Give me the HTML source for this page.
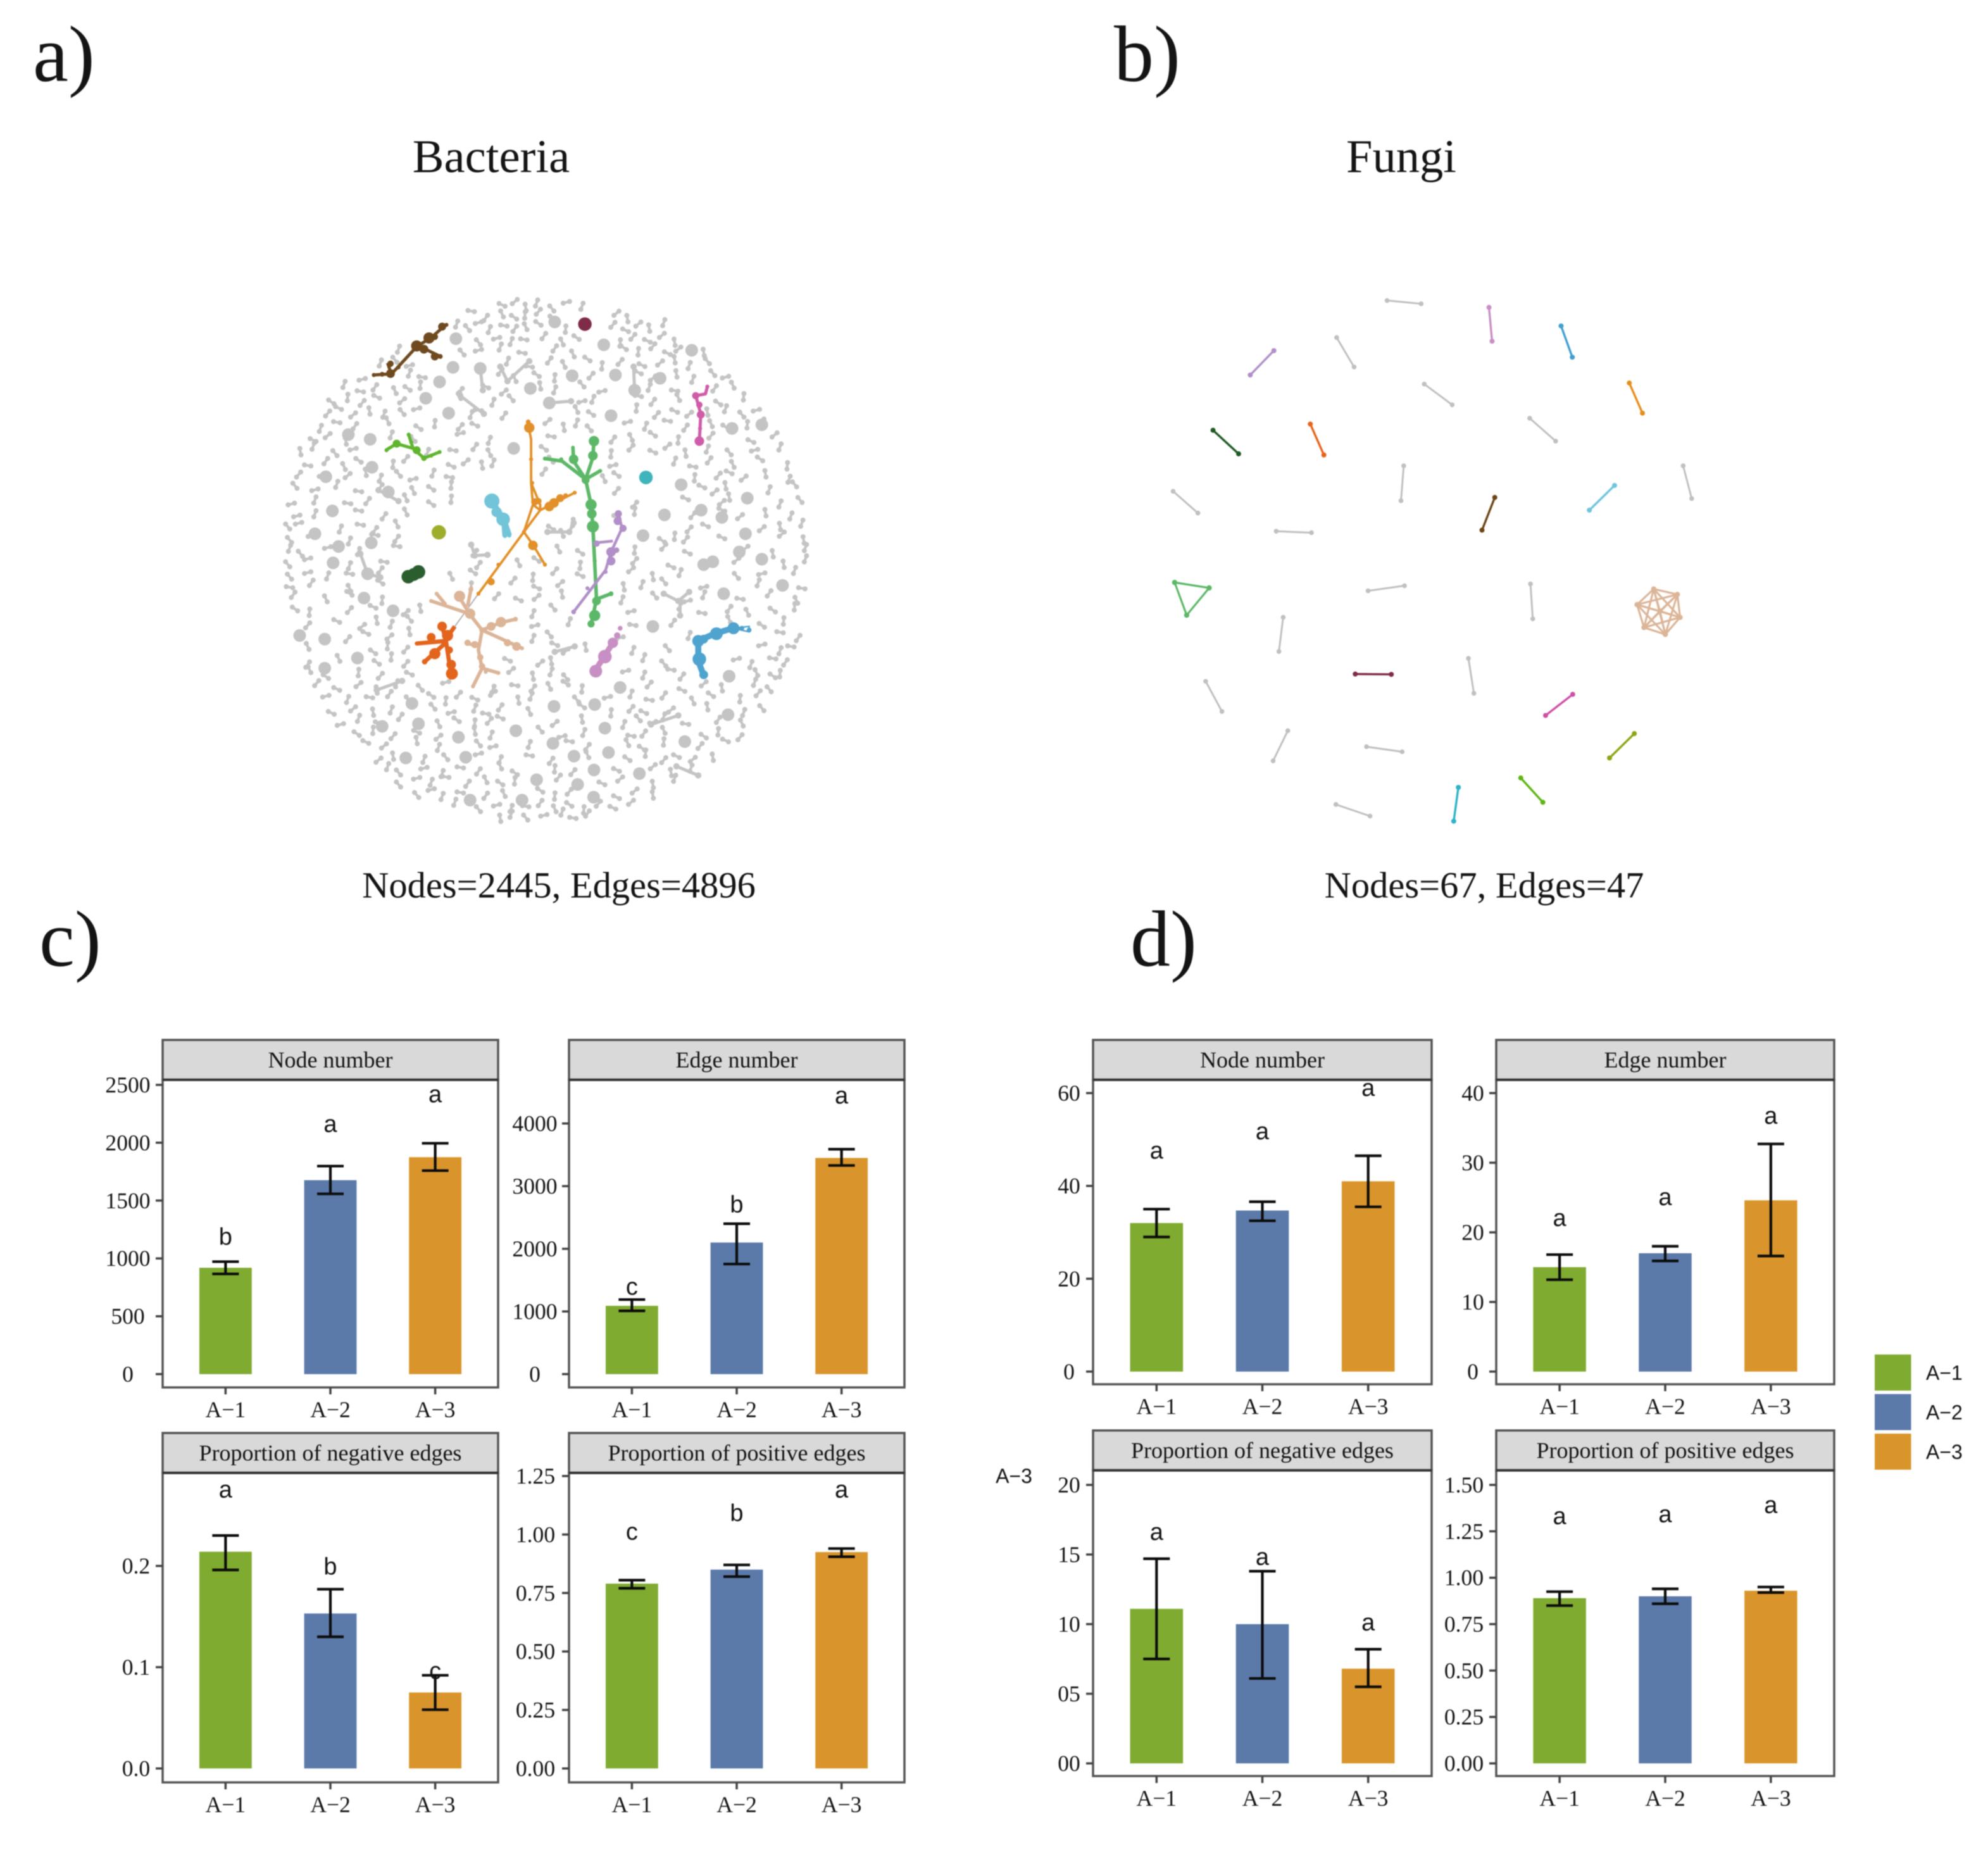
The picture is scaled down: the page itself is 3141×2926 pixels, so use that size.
<!DOCTYPE html>
<html lang="en">
<head>
<meta charset="utf-8">
<title>Bacteria and fungi co-occurrence networks</title>
<style>
html,body{margin:0;padding:0;background:#fff;}
#figure{display:block;width:3141px;height:2926px;filter:blur(0.9px);}
text{fill:#141414;}
.serif{font-family:"Liberation Serif",serif;}
.sans{font-family:"Liberation Sans",sans-serif;}
</style>
</head>
<body>
<svg id="figure" xmlns="http://www.w3.org/2000/svg" width="3141" height="2926" viewBox="0 0 3141 2926">
  <rect width="3141" height="2926" fill="#ffffff"/>
  <text class="serif" x="52" y="128" font-size="126">a)</text>
  <text class="serif" x="1760" y="128" font-size="126">b)</text>
  <text class="serif" x="62" y="1526" font-size="126">c)</text>
  <text class="serif" x="1786" y="1526" font-size="126">d)</text>
  <text class="serif" x="776" y="272" font-size="74.6" text-anchor="middle">Bacteria</text>
  <text class="serif" x="2214" y="272" font-size="74.5" text-anchor="middle">Fungi</text>
  <text class="serif" x="883" y="1418" font-size="58.5" text-anchor="middle">Nodes=2445, Edges=4896</text>
  <text class="serif" x="2345" y="1418" font-size="58.5" text-anchor="middle">Nodes=67, Edges=47</text>
  <text class="sans" x="1602" y="2343" font-size="32" text-anchor="middle">A−3</text>
  <g id="bacteria-network"></g>
  <g id="fungi-network"></g>
  <g id="bar-panels"></g>
  <g id="legend"></g>
</svg>
<script>
/* ---------- shared bar chart data ---------- */
const categories = ["A−1", "A−2", "A−3"];
const groupColors = ["#7fab30", "#5b7aa9", "#d9952b"];

/* c) bacteria */
const bactNodeTicks = [0, 500, 1000, 1500, 2000, 2500];
const bactNodeTickLabels = ["0", "500", "1000", "1500", "2000", "2500"];
const bactNodeValues = [919, 1676, 1875];
const bactNodeUpper = [972, 1798, 1995];
const bactNodeLower = [866, 1558, 1759];
const bactNodeLetters = ["b", "a", "a"];
const bactNodeLetterAt = [1185, 2157, 2416];

const bactEdgeTicks = [0, 1000, 2000, 3000, 4000];
const bactEdgeTickLabels = ["0", "1000", "2000", "3000", "4000"];
const bactEdgeValues = [1090, 2100, 3450];
const bactEdgeUpper = [1190, 2400, 3590];
const bactEdgeLower = [1010, 1757, 3330];
const bactEdgeLetters = ["c", "b", "a"];
const bactEdgeLetterAt = [1390, 2700, 4440];

const bactNegTicks = [0, 0.1, 0.2];
const bactNegTickLabels = ["0.0", "0.1", "0.2"];
const bactNegValues = [0.214, 0.153, 0.075];
const bactNegUpper = [0.230, 0.177, 0.092];
const bactNegLower = [0.196, 0.130, 0.058];
const bactNegLetters = ["a", "b", "c"];
const bactNegLetterAt = [0.275, 0.199, 0.096];

const bactPosTicks = [0, 0.25, 0.5, 0.75, 1, 1.25];
const bactPosTickLabels = ["0.00", "0.25", "0.50", "0.75", "1.00", "1.25"];
const bactPosValues = [0.79, 0.85, 0.925];
const bactPosUpper = [0.805, 0.87, 0.94];
const bactPosLower = [0.77, 0.82, 0.905];
const bactPosLetters = ["c", "b", "a"];
const bactPosLetterAt = [1.01, 1.09, 1.19];

/* d) fungi */
const fungNodeTicks = [0, 20, 40, 60];
const fungNodeTickLabels = ["0", "20", "40", "60"];
const fungNodeValues = [32, 34.7, 41];
const fungNodeUpper = [35, 36.6, 46.5];
const fungNodeLower = [29, 32.5, 35.5];
const fungNodeLetters = ["a", "a", "a"];
const fungNodeLetterAt = [47.5, 51.7, 61];

const fungEdgeTicks = [0, 10, 20, 30, 40];
const fungEdgeTickLabels = ["0", "10", "20", "30", "40"];
const fungEdgeValues = [15, 17, 24.6];
const fungEdgeUpper = [16.8, 18, 32.7];
const fungEdgeLower = [13.2, 15.9, 16.6];
const fungEdgeLetters = ["a", "a", "a"];
const fungEdgeLetterAt = [22, 25, 36.7];

const fungNegTicks = [0, 5, 10, 15, 20];
const fungNegTickLabels = ["00", "05", "10", "15", "20"];
const fungNegValues = [11.1, 10, 6.8];
const fungNegUpper = [14.7, 13.8, 8.2];
const fungNegLower = [7.5, 6.1, 5.5];
const fungNegLetters = ["a", "a", "a"];
const fungNegLetterAt = [16.6, 14.8, 10.1];

const fungPosTicks = [0, 0.25, 0.5, 0.75, 1, 1.25, 1.5];
const fungPosTickLabels = ["0.00", "0.25", "0.50", "0.75", "1.00", "1.25", "1.50"];
const fungPosValues = [0.89, 0.90, 0.93];
const fungPosUpper = [0.925, 0.94, 0.95];
const fungPosLower = [0.85, 0.86, 0.92];
const fungPosLetters = ["a", "a", "a"];
const fungPosLetterAt = [1.33, 1.34, 1.39];

/* ---------- bacteria network data (layout units) ---------- */
const greyRows = [
 [90,[685,720,750,780,822,862,905]],
 [118,[600,640,685,718,748,785,825,1000,1030]],
 [150,[560,590,620,650,690,720,750,785,860,990,1025,1060,1090,1130]],
 [185,[620,670,710,745,800,850,890,1010,1045,1085,1125,1160]],
 [215,[400,575,620,680,740,830,880,1020,1060,1100,1140,1170,1240]],
 [250,[350,390,430,700,760,815,855,920,960,1010,1070,1120,1160,1200,1250]],
 [285,[300,430,465,680,720,780,830,930,1060,1100,1165,1210,1265,1300]],
 [320,[250,295,335,390,425,460,570,640,690,790,830,905,960,1090,1160,1270,1320]],
 [350,[215,260,300,340,410,570,660,710,905,935,1060,1100,1170,1280,1350]],
 [385,[205,235,275,320,360,410,450,600,620,690,890,930,1055,1110,1160,1200,1250,1300,1345,1385]],
 [420,[185,230,280,370,455,500,570,610,810,855,890,925,1030,1080,1140,1190,1260,1300,1360,1400]],
 [455,[165,205,255,380,440,570,650,820,990,1040,1100,1170,1260,1370,1435]],
 [490,[130,165,225,275,480,550,610,650,800,985,1040,1100,1140,1190,1250,1310,1380,1450]],
 [525,[150,200,250,290,385,420,545,585,630,660,820,990,1160,1210,1255,1320,1395,1470]],
 [560,[125,190,260,310,350,400,440,495,540,800,965,1000,1215,1280,1310,1350,1410,1475]],
 [595,[115,170,230,290,350,440,490,545,1000,1235,1270,1300,1420,1490]],
 [630,[105,170,260,315,420,490,545,1050,1190,1290,1310,1450,1505]],
 [665,[120,170,290,360,420,1000,1050,1210,1290,1340,1410,1480]],
 [700,[95,125,240,295,335,395,820,880,1200,1245,1400,1450,1510]],
 [730,[100,160,265,335,395,850,1125,1160,1190,1290,1455,1515]],
 [765,[100,130,205,290,395,610,840,900,1050,1130,1195,1355,1430,1520]],
 [800,[95,150,265,360,620,730,780,900,1050,1150,1330,1460,1520]],
 [830,[100,150,205,265,350,545,605,770,830,900,1040,1100,1175,1330,1400,1490]],
 [860,[100,160,265,350,600,715,780,845,1020,1070,1130,1240,1390,1510]],
 [895,[110,200,265,355,670,730,780,850,1015,1105,1195,1240,1340,1420,1495]],
 [930,[115,155,265,330,420,460,770,825,1040,1175,1235,1310,1360,1430,1490]],
 [965,[150,230,300,340,380,430,775,870,1045,1155,1310,1400,1460]],
 [1000,[260,310,375,430,770,815,1010,1200,1450,1500]],
 [1035,[150,330,370,420,830,860,915,1045,1140,1400,1450,1480]],
 [1070,[150,235,340,380,420,700,790,820,1075,1130,1330,1370,1430,1465]],
 [1105,[155,200,290,350,430,710,770,820,860,1025,1075,1150,1180,1385,1430,1450]],
 [1140,[175,230,290,340,395,460,530,660,720,770,815,860,905,1090,1180,1240,1290,1380,1420]],
 [1170,[200,260,320,375,425,490,530,565,610,660,730,765,890,975,1040,1090,1130,1210,1260,1340,1390]],
 [1205,[215,275,330,380,495,545,610,640,680,760,905,985,1040,1075,1150,1250,1350,1400]],
 [1235,[240,290,345,405,510,560,610,650,680,830,905,1020,1060,1100,1130,1190,1280,1345]],
 [1270,[285,330,385,450,510,610,655,790,850,910,1040,1075,1130,1240,1280,1340]],
 [1300,[310,360,450,510,620,660,760,870,920,1030,1070,1130,1230,1300]],
 [1335,[345,385,470,530,620,680,760,820,920,1030,1080,1130,1165,1210,1265]],
 [1370,[370,400,470,520,570,620,680,720,830,880,1000,1100,1150,1205]],
 [1400,[400,450,490,530,590,640,680,720,840,960,1010,1100,1160]],
 [1435,[450,490,520,570,640,690,790,830,870,1000,1050,1100]],
 [1470,[555,620,670,710,750,790,830,870,910,950,990,1040]],
 [1495,[680,710,750,800,850,880,920]]
];
const dumbbellAngles = [25,-40,80,-70,50,-15,110,10,-55,65,35,-85,130];
const dumbbellRowShift = [0,-9,7,-5,10,-7,4,-11,8,-3,6];
const greyBlobs = [[558,183],[830,137],[965,200],[1207,215],[550,262],[625,265],[878,285],[997,283],[763,320],[513,302],[475,347],[538,388],[815,360],[985,395],[1120,292],[1050,325],[1318,430],[1400,420],[262,447],[322,460],[717,485],[327,537],[200,563],[1360,622],[1132,668],[1233,655],[1178,585],[372,605],[218,657],[170,720],[1355,720],[1073,725],[325,745],[235,755],[1290,675],[1240,805],[1265,797],[1338,770],[1400,790],[220,800],[315,830],[1295,885],[1457,862],[305,897],[385,932],[1100,975],[128,1000],[197,1010],[287,1062],[197,1090],[1010,1143],[1310,1112],[437,1187],[828,1195],[940,1190],[723,1262],[968,1255],[355,1250],[455,1243],[1188,1292],[1307,1218],[565,1280],[585,1335],[420,1337],[883,1332],[978,1322],[938,1370],[1063,1380],[780,1397],[893,1410],[597,1453],[740,1453],[937,1445],[825,1297]];
const greyTrees = [
 [[625,265],[632,325]],[[680,260],[700,300],[760,245]],[[570,340],[635,390]],[[815,360],[875,355]],
 [[1047,260],[1050,330]],[[295,775],[315,830],[350,840]],[[345,600],[400,630]],
 [[1200,880],[1170,905],[1130,885]],[[1175,905],[1175,945]],[[340,1150],[410,1125]],
 [[1095,1245],[1170,1220]],[[1225,1385],[1165,1360]],[[810,715],[870,715],[882,690]],
 [[600,750],[610,780],[645,778]],[[830,1045],[885,1030]]
];
const modules = [
 {name:"brown-module",color:"#6f4a1f",width:7,paths:[[[330,283],[380,280],[395,265],[450,205],[490,180],[530,145]],[[470,210],[515,232]],[[370,250],[380,280]]],
  nodes:[[332,283,5],[355,281,6],[378,279,11],[378,252,8],[400,262,5],[450,203,14],[470,212,11],[484,181,14],[500,178,8],[500,232,10],[515,232,6],[520,150,10],[532,145,5]]},
 {name:"maroon-module",color:"#7f2c4a",width:4,paths:[],nodes:[[913,143,17]]},
 {name:"pink-module",color:"#cf5ca8",width:7,paths:[[[1250,315],[1245,335],[1218,340],[1232,390],[1228,465]]],
  nodes:[[1250,315,5],[1218,340,9],[1228,365,8],[1232,392,10],[1230,430,5],[1228,465,12]]},
 {name:"lime-module",color:"#5fb52e",width:7,paths:[[[365,490],[395,472],[440,485],[470,512],[513,495]],[[428,447],[440,485]]],
  nodes:[[367,490,5],[395,472,10],[428,447,5],[435,468,5],[450,490,10],[470,512,7],[490,505,5],[513,495,5]]},
 {name:"orange-module",color:"#e2912a",width:5,paths:[[[755,410],[765,460],[765,580],[770,640],[745,715],[620,885]],[[790,655],[885,607]],[[745,715],[770,750],[803,805]],[[765,580],[790,640],[790,655]],[[770,640],[790,655],[745,715]]],
  nodes:[[757,412,6],[760,428,13],[765,515,5],[768,580,5],[775,632,9],[785,630,8],[815,645,12],[828,635,12],[845,622,10],[860,615,6],[885,607,5],[745,715,5],[770,752,12],[803,805,5],[675,805,5],[655,852,9],[620,885,5]]},
 {name:"green-module",color:"#5cb868",width:8,paths:[[[938,460],[935,510],[915,570],[930,640],[935,700],[940,800],[945,900],[930,970]],[[803,513],[850,520],[915,570]],[[880,480],[882,520],[915,570]],[[945,900],[985,885]],[[915,570],[955,547]]],
  nodes:[[938,465,13],[935,505,12],[882,515,12],[880,482,4],[803,513,5],[848,515,5],[915,572,10],[955,547,5],[930,640,14],[932,665,12],[935,700,15],[940,795,5],[945,905,11],[985,885,6],[940,945,14],[930,968,9]]},
 {name:"purple-module",color:"#b18fc8",width:6,paths:[[[1005,660],[1015,705],[985,770],[970,820],[882,935]],[[940,745],[990,740]]],
  nodes:[[1005,665,9],[1003,685,10],[1018,705,9],[945,747,8],[1000,765,7],[985,770,12],[985,795,11],[970,825,5],[920,870,5],[882,935,6]]},
 {name:"light-blue-module",color:"#72c4d8",width:13,paths:[[[657,630],[690,680]],[[690,680],[693,725]],[[690,680],[705,725]]],
  nodes:[[657,630,19],[670,660,13],[688,680,17],[693,725,6],[705,725,5]]},
 {name:"olive-module",color:"#a0ad2a",width:4,paths:[],nodes:[[511,716,18]]},
 {name:"dark-green-module",color:"#2a5e2e",width:4,paths:[],nodes:[[427,838,17],[442,832,16],[455,825,17]]},
 {name:"teal-module",color:"#40b4bc",width:4,paths:[],nodes:[[1081,565,17]]},
 {name:"tan-module",color:"#dcb598",width:8,paths:[[[565,890],[595,940],[630,985],[680,965],[722,955]],[[630,985],[740,1035]],[[630,985],[620,1040],[630,1090],[605,1140]],[[630,1090],[675,1103]],[[595,940],[490,905]],[[505,885],[530,915]],[[600,870],[590,920]],[[585,1020],[620,1030]]],
  nodes:[[568,892,14],[597,940,13],[630,985,7],[655,975,11],[682,963,13],[722,955,6],[700,1020,9],[725,1030,11],[740,1035,5],[590,1020,8],[610,1025,9],[625,1060,8],[630,1085,8],[640,1100,5],[675,1103,5],[605,1140,5],[490,905,5],[505,885,5],[600,870,5]]},
 {name:"orange-red-module",color:"#e3651d",width:10,paths:[[[555,975],[530,1010],[545,1110]],[[520,975],[530,1010]],[[450,1022],[530,1015]],[[472,1072],[530,1020]]],
  nodes:[[520,975,12],[535,1000,14],[490,1005,11],[450,1022,5],[500,1050,14],[472,1072,7],[540,1040,9],[545,1080,12],[547,1105,15]]},
 {name:"mauve-module",color:"#c88fc4",width:14,paths:[[[990,1020],[965,1060],[940,1098]]],
  nodes:[[1010,980,6],[1002,1000,8],[990,1020,13],[968,1058,17],[943,1098,16]]},
 {name:"blue-module",color:"#4fa3cf",width:15,paths:[[[1320,980],[1270,995],[1225,1015],[1225,1070],[1240,1110]]],
  nodes:[[1365,985,6],[1345,980,6],[1322,980,15],[1275,995,16],[1240,1010,11],[1225,1015,15],[1228,1065,17],[1240,1108,11]]}
];
const blueModuleTail = [[1320,980],[1365,975],[1365,990],[1320,980]];
const bactGreyConnector = [[620,885],[555,975]];

/* ---------- fungi network data (layout units) ---------- */
const fungiGreyEdges = [[672,78,760,87],[542,180,587,261],[768,308,840,365],[1040,402,1107,465],[715,533,708,629],[120,603,184,663],[386,713,477,717],[1436,533,1458,623],[717,863,623,877],[1042,858,1048,954],[404,950,393,1044],[882,1063,896,1159],[204,1126,246,1209],[416,1262,378,1345],[619,1306,711,1320],[540,1465,628,1497]];
const fungiColorEdges = [
 [935,97,943,190,"#c88fc4"],[1121,148,1150,234,"#3f9fd0"],[380,216,319,283,"#b18fc8"],[1297,305,1331,388,"#e58e1c"],
 [223,435,289,500,"#1f5a25"],[474,418,509,503,"#e8631a"],[1259,587,1194,655,"#6ec5dd"],[950,620,917,710,"#6b4414"],
 [590,1106,683,1107,"#7f2c4a"],[1151,1162,1081,1220,"#cf4fa5"],[1310,1270,1246,1337,"#8fa512"],[1017,1392,1074,1459,"#5fb512"],[856,1418,844,1511,"#2db3c4"]
];
const fungiTriangle = [[124,854],[213,869],[155,944]];
const fungiClique = [[1360,872],[1421,887],[1428,950],[1390,997],[1335,978],[1317,915],[1376,933]];

/* ---------- helpers ---------- */
const NS = "http://www.w3.org/2000/svg";
function make(parent, tag, attrs, name, text) {
  const el = document.createElementNS(NS, tag);
  for (const k in attrs) el.setAttribute(k, attrs[k]);
  
  
  if (text !== undefined) el.textContent = text;
  parent.appendChild(el);
  return el;
}

/* ---------- bacteria network ---------- */
const bx = u => 400 + u / 1.742;
const by = u => 430 + u / 1.742;
const bactRoot = document.getElementById("bacteria-network");
const GREY = "#c4c4c4";
(function drawBacteria() {
  const greyGroup = make(bactRoot, "g", {fill: GREY, stroke: GREY}, "grey-modules");
  let i = 0;
  greyRows.forEach(row => {
    row[1].forEach(x => {
      const a = dumbbellAngles[i % dumbbellAngles.length] * Math.PI / 180;
      const shift = dumbbellRowShift[i % dumbbellRowShift.length];
      i++;
      const cx = bx(x), cy = by(row[0] + shift), dx = Math.cos(a) * 5.2, dy = Math.sin(a) * 5.2;
      make(greyGroup, "line", {x1: cx - dx, y1: cy - dy, x2: cx + dx, y2: cy + dy, "stroke-width": 4.2}, "grey-edge");
      make(greyGroup, "circle", {cx: cx - dx, cy: cy - dy, r: 4, stroke: "none"}, "grey-node");
      make(greyGroup, "circle", {cx: cx + dx, cy: cy + dy, r: 4, stroke: "none"}, "grey-node");
    });
  });
  greyTrees.forEach(t => {
    make(greyGroup, "polyline", {points: t.map(p => bx(p[0]) + "," + by(p[1])).join(" "), fill: "none", "stroke-width": 5}, "grey-branch");
    t.forEach(p => make(greyGroup, "circle", {cx: bx(p[0]), cy: by(p[1]), r: 5, stroke: "none"}, "grey-node"));
  });
  greyBlobs.forEach(p => make(greyGroup, "circle", {cx: bx(p[0]), cy: by(p[1]), r: 10, stroke: "none"}, "grey-cluster"));
  make(bactRoot, "line", {x1: bx(bactGreyConnector[0][0]), y1: by(bactGreyConnector[0][1]), x2: bx(bactGreyConnector[1][0]), y2: by(bactGreyConnector[1][1]), stroke: "#b0b0b0", "stroke-width": 2}, "grey-connector-edge");
  modules.forEach(m => {
    const g = make(bactRoot, "g", {fill: m.color, stroke: m.color}, m.name);
    m.paths.forEach(p => make(g, "polyline", {points: p.map(q => bx(q[0]) + "," + by(q[1])).join(" "), fill: "none", "stroke-width": m.width / 1.742 + 1, "stroke-linejoin": "round"}, "module-edge"));
    m.nodes.forEach(n => make(g, "circle", {cx: bx(n[0]), cy: by(n[1]), r: n[2] / 1.742 * 1.1, stroke: "none"}, "module-node"));
  });
  make(bactRoot, "polyline", {points: blueModuleTail.map(q => bx(q[0]) + "," + by(q[1])).join(" "), fill: "none", stroke: "#4fa3cf", "stroke-width": 2.4}, "blue-module-tail");
})();

/* ---------- fungi network ---------- */
const fx = u => 1780 + u / 1.633;
const fy = u => 430 + u / 1.742;
const fungRoot = document.getElementById("fungi-network");
function fungiEdge(parent, x1, y1, x2, y2, color, w) {
  make(parent, "line", {x1: fx(x1), y1: fy(y1), x2: fx(x2), y2: fy(y2), stroke: color, "stroke-width": w}, "fungi-edge");
}
function fungiNode(parent, x, y, color, r) {
  make(parent, "circle", {cx: fx(x), cy: fy(y), r: r, fill: color}, "fungi-node");
}
(function drawFungi() {
  const gg = make(fungRoot, "g", {}, "fungi-grey-pairs");
  fungiGreyEdges.forEach(e => {
    fungiEdge(gg, e[0], e[1], e[2], e[3], "#c0c0c0", 3);
    fungiNode(gg, e[0], e[1], "#c0c0c0", 3.8);
    fungiNode(gg, e[2], e[3], "#c0c0c0", 3.8);
  });
  const cg = make(fungRoot, "g", {}, "fungi-colored-pairs");
  fungiColorEdges.forEach(e => {
    fungiEdge(cg, e[0], e[1], e[2], e[3], e[4], 3.4);
    fungiNode(cg, e[0], e[1], e[4], 4);
    fungiNode(cg, e[2], e[3], e[4], 4);
  });
  const tri = make(fungRoot, "g", {}, "fungi-green-triangle");
  fungiTriangle.forEach((p, i) => {
    const q = fungiTriangle[(i + 1) % 3];
    fungiEdge(tri, p[0], p[1], q[0], q[1], "#5cb868", 3.2);
  });
  fungiTriangle.forEach(p => fungiNode(tri, p[0], p[1], "#5cb868", 4.2));
  const cl = make(fungRoot, "g", {}, "fungi-tan-clique");
  fungiClique.forEach((p, i) => {
    fungiClique.slice(i + 1).forEach(q => fungiEdge(cl, p[0], p[1], q[0], q[1], "#dcb598", 3.2));
  });
  fungiClique.forEach(p => fungiNode(cl, p[0], p[1], "#dcb598", 4.2));
})();

/* ---------- bar panels ---------- */
const panelRoot = document.getElementById("bar-panels");
function drawPanel(c) {
  const g = make(panelRoot, "g", {}, c.name);
  const w = c.x1 - c.x0;
  const xPos = i => c.x0 + (i + 1 - 0.4) / 3.2 * w;
  const barW = 0.5 / 3.2 * w;
  const t0 = c.ticks[0], tN = c.ticks[c.ticks.length - 1];
  const yPos = v => c.zeroPx + (v - t0) / (tN - t0) * (c.topPx - c.zeroPx);

  make(g, "rect", {x: c.x0, y: c.stripTop, width: w, height: c.stripBottom - c.stripTop, fill: "#d9d9d9", stroke: "#555", "stroke-width": 3.5}, "facet-strip");
  make(g, "text", {x: (c.x0 + c.x1) / 2, y: (c.stripTop + c.stripBottom) / 2 + 12, "font-size": 36, "text-anchor": "middle", class: "serif"}, "facet-title", c.title);

  c.values.forEach((v, i) => {
    make(g, "rect", {x: xPos(i) - barW / 2, y: yPos(v), width: barW, height: yPos(0) - yPos(v), fill: groupColors[i]}, "bar-" + (i + 1));
  });
  make(g, "rect", {x: c.x0, y: c.stripBottom, width: w, height: c.bottom - c.stripBottom, fill: "none", stroke: "#555", "stroke-width": 3.5}, "panel-border");
  make(g, "line", {x1: c.x0, x2: c.x1, y1: c.stripBottom, y2: c.stripBottom, stroke: "#333", "stroke-width": 4}, "strip-divider");

  c.ticks.forEach((t, i) => {
    make(g, "line", {x1: c.x0 - 11, x2: c.x0, y1: yPos(t), y2: yPos(t), stroke: "#444", "stroke-width": 3.5}, "y-tick");
    make(g, "text", {x: c.labelCx, y: yPos(t) + 12, "font-size": 35.6, "text-anchor": "middle", class: "serif"}, "y-tick-label", c.tickLabels[i]);
  });
  categories.forEach((cat, i) => {
    make(g, "line", {x1: xPos(i), x2: xPos(i), y1: c.bottom, y2: c.bottom + 11, stroke: "#444", "stroke-width": 3.5}, "x-tick");
    make(g, "text", {x: xPos(i), y: c.bottom + 47, "font-size": 35.6, "text-anchor": "middle", class: "serif"}, "x-tick-label", cat);
  });
  c.values.forEach((v, i) => {
    const cx = xPos(i);
    make(g, "line", {x1: cx, x2: cx, y1: yPos(c.upper[i]), y2: yPos(c.lower[i]), stroke: "#0c0c0c", "stroke-width": 4.2}, "error-bar-stem");
    make(g, "line", {x1: cx - 21, x2: cx + 21, y1: yPos(c.upper[i]), y2: yPos(c.upper[i]), stroke: "#0c0c0c", "stroke-width": 4.2}, "error-bar-cap");
    make(g, "line", {x1: cx - 21, x2: cx + 21, y1: yPos(c.lower[i]), y2: yPos(c.lower[i]), stroke: "#0c0c0c", "stroke-width": 4.2}, "error-bar-cap");
    make(g, "text", {x: cx, y: yPos(c.letterAt[i]) + 12, "font-size": 38, "text-anchor": "middle", class: "sans"}, "significance-letter", c.letters[i]);
  });
}

drawPanel({name:"bacteria-node-panel",title:"Node number",x0:257,x1:787,stripTop:1643,stripBottom:1706,bottom:2192,zeroPx:2171,topPx:1714,labelCx:202,ticks:bactNodeTicks,tickLabels:bactNodeTickLabels,values:bactNodeValues,upper:bactNodeUpper,lower:bactNodeLower,letters:bactNodeLetters,letterAt:bactNodeLetterAt});
drawPanel({name:"bacteria-edge-panel",title:"Edge number",x0:899,x1:1429,stripTop:1643,stripBottom:1706,bottom:2192,zeroPx:2171,topPx:1775,labelCx:845,ticks:bactEdgeTicks,tickLabels:bactEdgeTickLabels,values:bactEdgeValues,upper:bactEdgeUpper,lower:bactEdgeLower,letters:bactEdgeLetters,letterAt:bactEdgeLetterAt});
drawPanel({name:"bacteria-negative-panel",title:"Proportion of negative edges",x0:257,x1:787,stripTop:2264,stripBottom:2327,bottom:2816,zeroPx:2794,topPx:2474,labelCx:215,ticks:bactNegTicks,tickLabels:bactNegTickLabels,values:bactNegValues,upper:bactNegUpper,lower:bactNegLower,letters:bactNegLetters,letterAt:bactNegLetterAt});
drawPanel({name:"bacteria-positive-panel",title:"Proportion of positive edges",x0:899,x1:1429,stripTop:2264,stripBottom:2327,bottom:2816,zeroPx:2794,topPx:2332,labelCx:846,ticks:bactPosTicks,tickLabels:bactPosTickLabels,values:bactPosValues,upper:bactPosUpper,lower:bactPosLower,letters:bactPosLetters,letterAt:bactPosLetterAt});
drawPanel({name:"fungi-node-panel",title:"Node number",x0:1727,x1:2262,stripTop:1643,stripBottom:1706,bottom:2187,zeroPx:2167,topPx:1727,labelCx:1689,ticks:fungNodeTicks,tickLabels:fungNodeTickLabels,values:fungNodeValues,upper:fungNodeUpper,lower:fungNodeLower,letters:fungNodeLetters,letterAt:fungNodeLetterAt});
drawPanel({name:"fungi-edge-panel",title:"Edge number",x0:2364,x1:2898,stripTop:1643,stripBottom:1706,bottom:2187,zeroPx:2167,topPx:1727,labelCx:2327,ticks:fungEdgeTicks,tickLabels:fungEdgeTickLabels,values:fungEdgeValues,upper:fungEdgeUpper,lower:fungEdgeLower,letters:fungEdgeLetters,letterAt:fungEdgeLetterAt});
drawPanel({name:"fungi-negative-panel",title:"Proportion of negative edges",x0:1727,x1:2262,stripTop:2260,stripBottom:2323,bottom:2806,zeroPx:2786,topPx:2346,labelCx:1689,ticks:fungNegTicks,tickLabels:fungNegTickLabels,values:fungNegValues,upper:fungNegUpper,lower:fungNegLower,letters:fungNegLetters,letterAt:fungNegLetterAt});
drawPanel({name:"fungi-positive-panel",title:"Proportion of positive edges",x0:2364,x1:2898,stripTop:2260,stripBottom:2323,bottom:2806,zeroPx:2786,topPx:2346,labelCx:2313,ticks:fungPosTicks,tickLabels:fungPosTickLabels,values:fungPosValues,upper:fungPosUpper,lower:fungPosLower,letters:fungPosLetters,letterAt:fungPosLetterAt});

/* ---------- legend ---------- */
const legendRoot = document.getElementById("legend");
categories.forEach((cat, i) => {
  const top = 2140 + i * 62.5;
  make(legendRoot, "rect", {x: 2962, y: top, width: 57.5, height: 57, fill: groupColors[i]}, "legend-swatch-" + (i + 1));
  make(legendRoot, "text", {x: 3043, y: top + 40, "font-size": 32, class: "sans"}, "legend-label-" + (i + 1), cat);
});
</script>
</body>
</html>
